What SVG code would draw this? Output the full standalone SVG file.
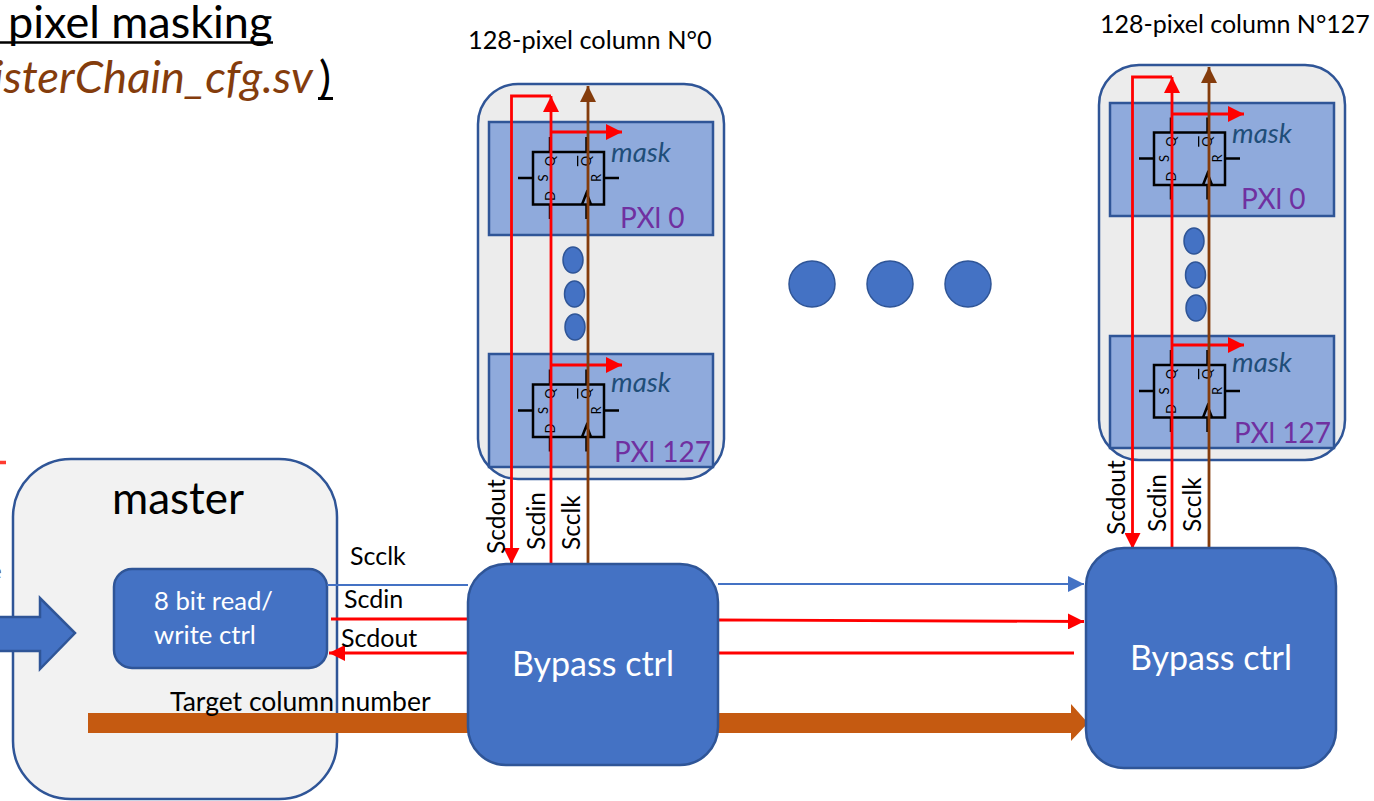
<svg xmlns="http://www.w3.org/2000/svg" xmlns:xlink="http://www.w3.org/1999/xlink" width="1374" height="801" viewBox="0 0 1374 801">
<style>
text{font-family:Lato,"Liberation Sans",sans-serif}
.col{fill:#ececec;stroke:#2f5597;stroke-width:2.500}
.pxl{fill:#8faadc;stroke:#2f5597;stroke-width:2.500}
.blue{fill:#4472c4;stroke:#2f5597;stroke-width:2.500}
.dot{fill:#4472c4;stroke:#2f5597;stroke-width:1.500}
.red{fill:none;stroke:#ff0000;stroke-width:2.800}
.brown{fill:none;stroke:#843c0c;stroke-width:2.800}
.mask{font-size:27.500px;font-style:italic;fill:#1f4e79}
.px{font-size:28px;fill:#7030a0}
.lbl{font-size:24.500px;fill:#000}
.lbs{font-size:25px;fill:#000}
.wh{fill:#fff}
.ff{fill:none;stroke:#000;stroke-width:2.500}
.fft{font-size:13px;fill:#000}
</style>
<defs>
<marker id="ar" markerUnits="userSpaceOnUse" markerWidth="18" markerHeight="16" refX="16" refY="8" orient="auto"><path d="M0 0L16 8L0 16z" fill="#ff0000"/></marker>
<marker id="ab" markerUnits="userSpaceOnUse" markerWidth="18" markerHeight="16" refX="16" refY="8" orient="auto"><path d="M0 0L16 8L0 16z" fill="#843c0c"/></marker>
<marker id="abl" markerUnits="userSpaceOnUse" markerWidth="18" markerHeight="16" refX="16" refY="8" orient="auto"><path d="M0 0L16 8L0 16z" fill="#4472c4"/></marker>
<g id="ffsym">
<rect class="ff" x="0" y="0" width="71" height="52.500"/>
<path class="ff" d="M17 0V-15M53.500 0V-15M17 52.500V67M53.500 52.500V67M0 26H-15M71 26H86M49 52.500L53.500 41L58 52.500"/>
<text class="fft" transform="translate(17,9) rotate(-90)" text-anchor="middle" y="4.500">Q</text>
<text class="fft" transform="translate(53.500,9) rotate(-90)" text-anchor="middle" y="4.500" text-decoration="overline">Q</text>
<text class="fft" transform="translate(10,26) rotate(-90)" text-anchor="middle" y="4.500">S</text>
<text class="fft" transform="translate(63,26) rotate(-90)" text-anchor="middle" y="4.500">R</text>
<text class="fft" transform="translate(17,44) rotate(-90)" text-anchor="middle" y="4.500">D</text>
</g>
</defs>
<rect width="1374" height="801" fill="#fff"/>
<g id="title">
<text x="8" y="38" font-size="45" fill="#000">pixel masking</text>
<path d="M0 42.500H273" stroke="#000" stroke-width="2.500" fill="none"/>
<text x="-7" y="93" font-size="45.500" font-style="italic" fill="#843c0c">isterChain_cfg.sv</text>
<text x="319" y="93" font-size="45" fill="#000">)</text>
<path d="M318 98.500H333" stroke="#000" stroke-width="3" fill="none"/>
<path d="M0 462.500H6" stroke="#ff3b30" stroke-width="3.500" fill="none"/>
</g>
<g id="column0">
<text x="468" y="49" font-size="25.300" fill="#000">128-pixel column N°0</text>
<rect class="col" x="478" y="84" width="246" height="395" rx="40"/>
<g id="c0-pxl0"><rect class="pxl" x="489" y="122" width="224" height="113"/><use xlink:href="#ffsym" href="#ffsym" x="533" y="152"/><text class="mask" x="611" y="162">mask</text><text class="px" x="620" y="228">PXl 0</text></g>
<g id="c0-pxl127"><rect class="pxl" x="489" y="354" width="224" height="113"/><use xlink:href="#ffsym" href="#ffsym" x="533" y="384.500"/><text class="mask" x="611" y="392">mask</text><text class="px" x="614" y="462">PXl 127</text></g>
<ellipse class="dot" cx="573" cy="260" rx="10" ry="13"/><ellipse class="dot" cx="574.500" cy="294" rx="10" ry="13"/><ellipse class="dot" cx="575" cy="327" rx="10" ry="13"/>
</g>
<g id="column127">
<text x="1100" y="33" font-size="25" fill="#000">128-pixel column N°127</text>
<rect class="col" x="1099" y="65" width="246" height="395" rx="40"/>
<g id="c127-pxl0"><rect class="pxl" x="1110" y="103" width="224" height="113"/><use xlink:href="#ffsym" href="#ffsym" x="1154" y="132.500"/><text class="mask" x="1232" y="143">mask</text><text class="px" x="1241" y="209">PXl 0</text></g>
<g id="c127-pxl127"><rect class="pxl" x="1110" y="336" width="224" height="112"/><use xlink:href="#ffsym" href="#ffsym" x="1154" y="365"/><text class="mask" x="1232" y="372">mask</text><text class="px" x="1234" y="443">PXl 127</text></g>
<ellipse class="dot" cx="1194" cy="241" rx="10" ry="13"/><ellipse class="dot" cx="1195.500" cy="275" rx="10" ry="13"/><ellipse class="dot" cx="1196" cy="308" rx="10" ry="13"/>
</g>
<g id="dots">
<circle class="dot" cx="812" cy="284" r="23"/><circle class="dot" cx="890" cy="284" r="23"/><circle class="dot" cx="968" cy="284" r="23"/>
</g>
<g id="master">
<rect x="13" y="459" width="324" height="340" rx="58" fill="#f2f2f2" stroke="#2f5597" stroke-width="2.500"/>
<text x="112" y="514" font-size="44" fill="#000">master</text>
<text x="-11" y="579" font-size="24" fill="#595959">e</text>
</g>
<g id="input-arrow"><path class="blue" d="M-4 617H40V598L75 633L40 669V651H-4z"/></g>
<g id="ctrl8"><rect class="blue" x="114" y="569" width="213" height="99" rx="18"/><text class="wh" x="154" y="610" font-size="25.700">8 bit read/</text><text class="wh" x="154" y="644" font-size="25.700">write ctrl</text></g>
<g id="connectors">
<path d="M88 723H468" stroke="#c55a11" stroke-width="20" fill="none"/>
<path d="M718 723H1072" stroke="#c55a11" stroke-width="20" fill="none"/>
<path d="M1071 704L1088 723L1071 741z" fill="#c55a11"/>
<path d="M327 585H468" stroke="#4472c4" stroke-width="2.200" fill="none"/>
<path d="M718 584H1084" stroke="#4472c4" stroke-width="2.200" fill="none" marker-end="url(#abl)"/>
<path class="red" d="M331 619H468"/>
<path class="red" d="M718 620L1084 621.500" marker-end="url(#ar)"/>
<path class="red" d="M468 653H329" marker-end="url(#ar)"/>
<path class="red" d="M1074 653H718"/>
<path class="red" d="M551 564V96" marker-end="url(#ar)"/>
<path class="red" d="M551 96H511.500V564" marker-end="url(#ar)"/>
<path class="red" d="M551 132H622" marker-end="url(#ar)"/>
<path class="red" d="M551 365H622" marker-end="url(#ar)"/>
<path class="brown" d="M588 564V86" marker-end="url(#ab)"/>
<path class="red" d="M1172 548V77" marker-end="url(#ar)"/>
<path class="red" d="M1172 77H1132.500V549" marker-end="url(#ar)"/>
<path class="red" d="M1172 114H1244" marker-end="url(#ar)"/>
<path class="red" d="M1172 345H1244" marker-end="url(#ar)"/>
<path class="brown" d="M1209 548V67" marker-end="url(#ab)"/>
</g>
<g id="bypass0"><rect class="blue" x="468" y="564" width="250" height="201" rx="38"/><text class="wh" x="593" y="676" font-size="34" text-anchor="middle">Bypass ctrl</text></g>
<g id="bypass127"><rect class="blue" x="1086" y="548" width="250" height="220" rx="38"/><text class="wh" x="1211" y="670" font-size="34" text-anchor="middle">Bypass ctrl</text></g>
<g id="labels">
<text class="lbs" x="350" y="565">Scclk</text>
<text class="lbs" x="344" y="608">Scdin</text>
<text class="lbs" x="341" y="647">Scdout</text>
<text x="170" y="711" font-size="26.500" fill="#000">Target column number</text>
<text class="lbl" transform="translate(505,554) rotate(-90)">Scdout</text>
<text class="lbl" transform="translate(545,550) rotate(-90)">Scdin</text>
<text class="lbl" transform="translate(580,550) rotate(-90)">Scclk</text>
<text class="lbl" transform="translate(1125,535) rotate(-90)">Scdout</text>
<text class="lbl" transform="translate(1166,532) rotate(-90)">Scdin</text>
<text class="lbl" transform="translate(1201,532) rotate(-90)">Scclk</text>
</g>
</svg>
